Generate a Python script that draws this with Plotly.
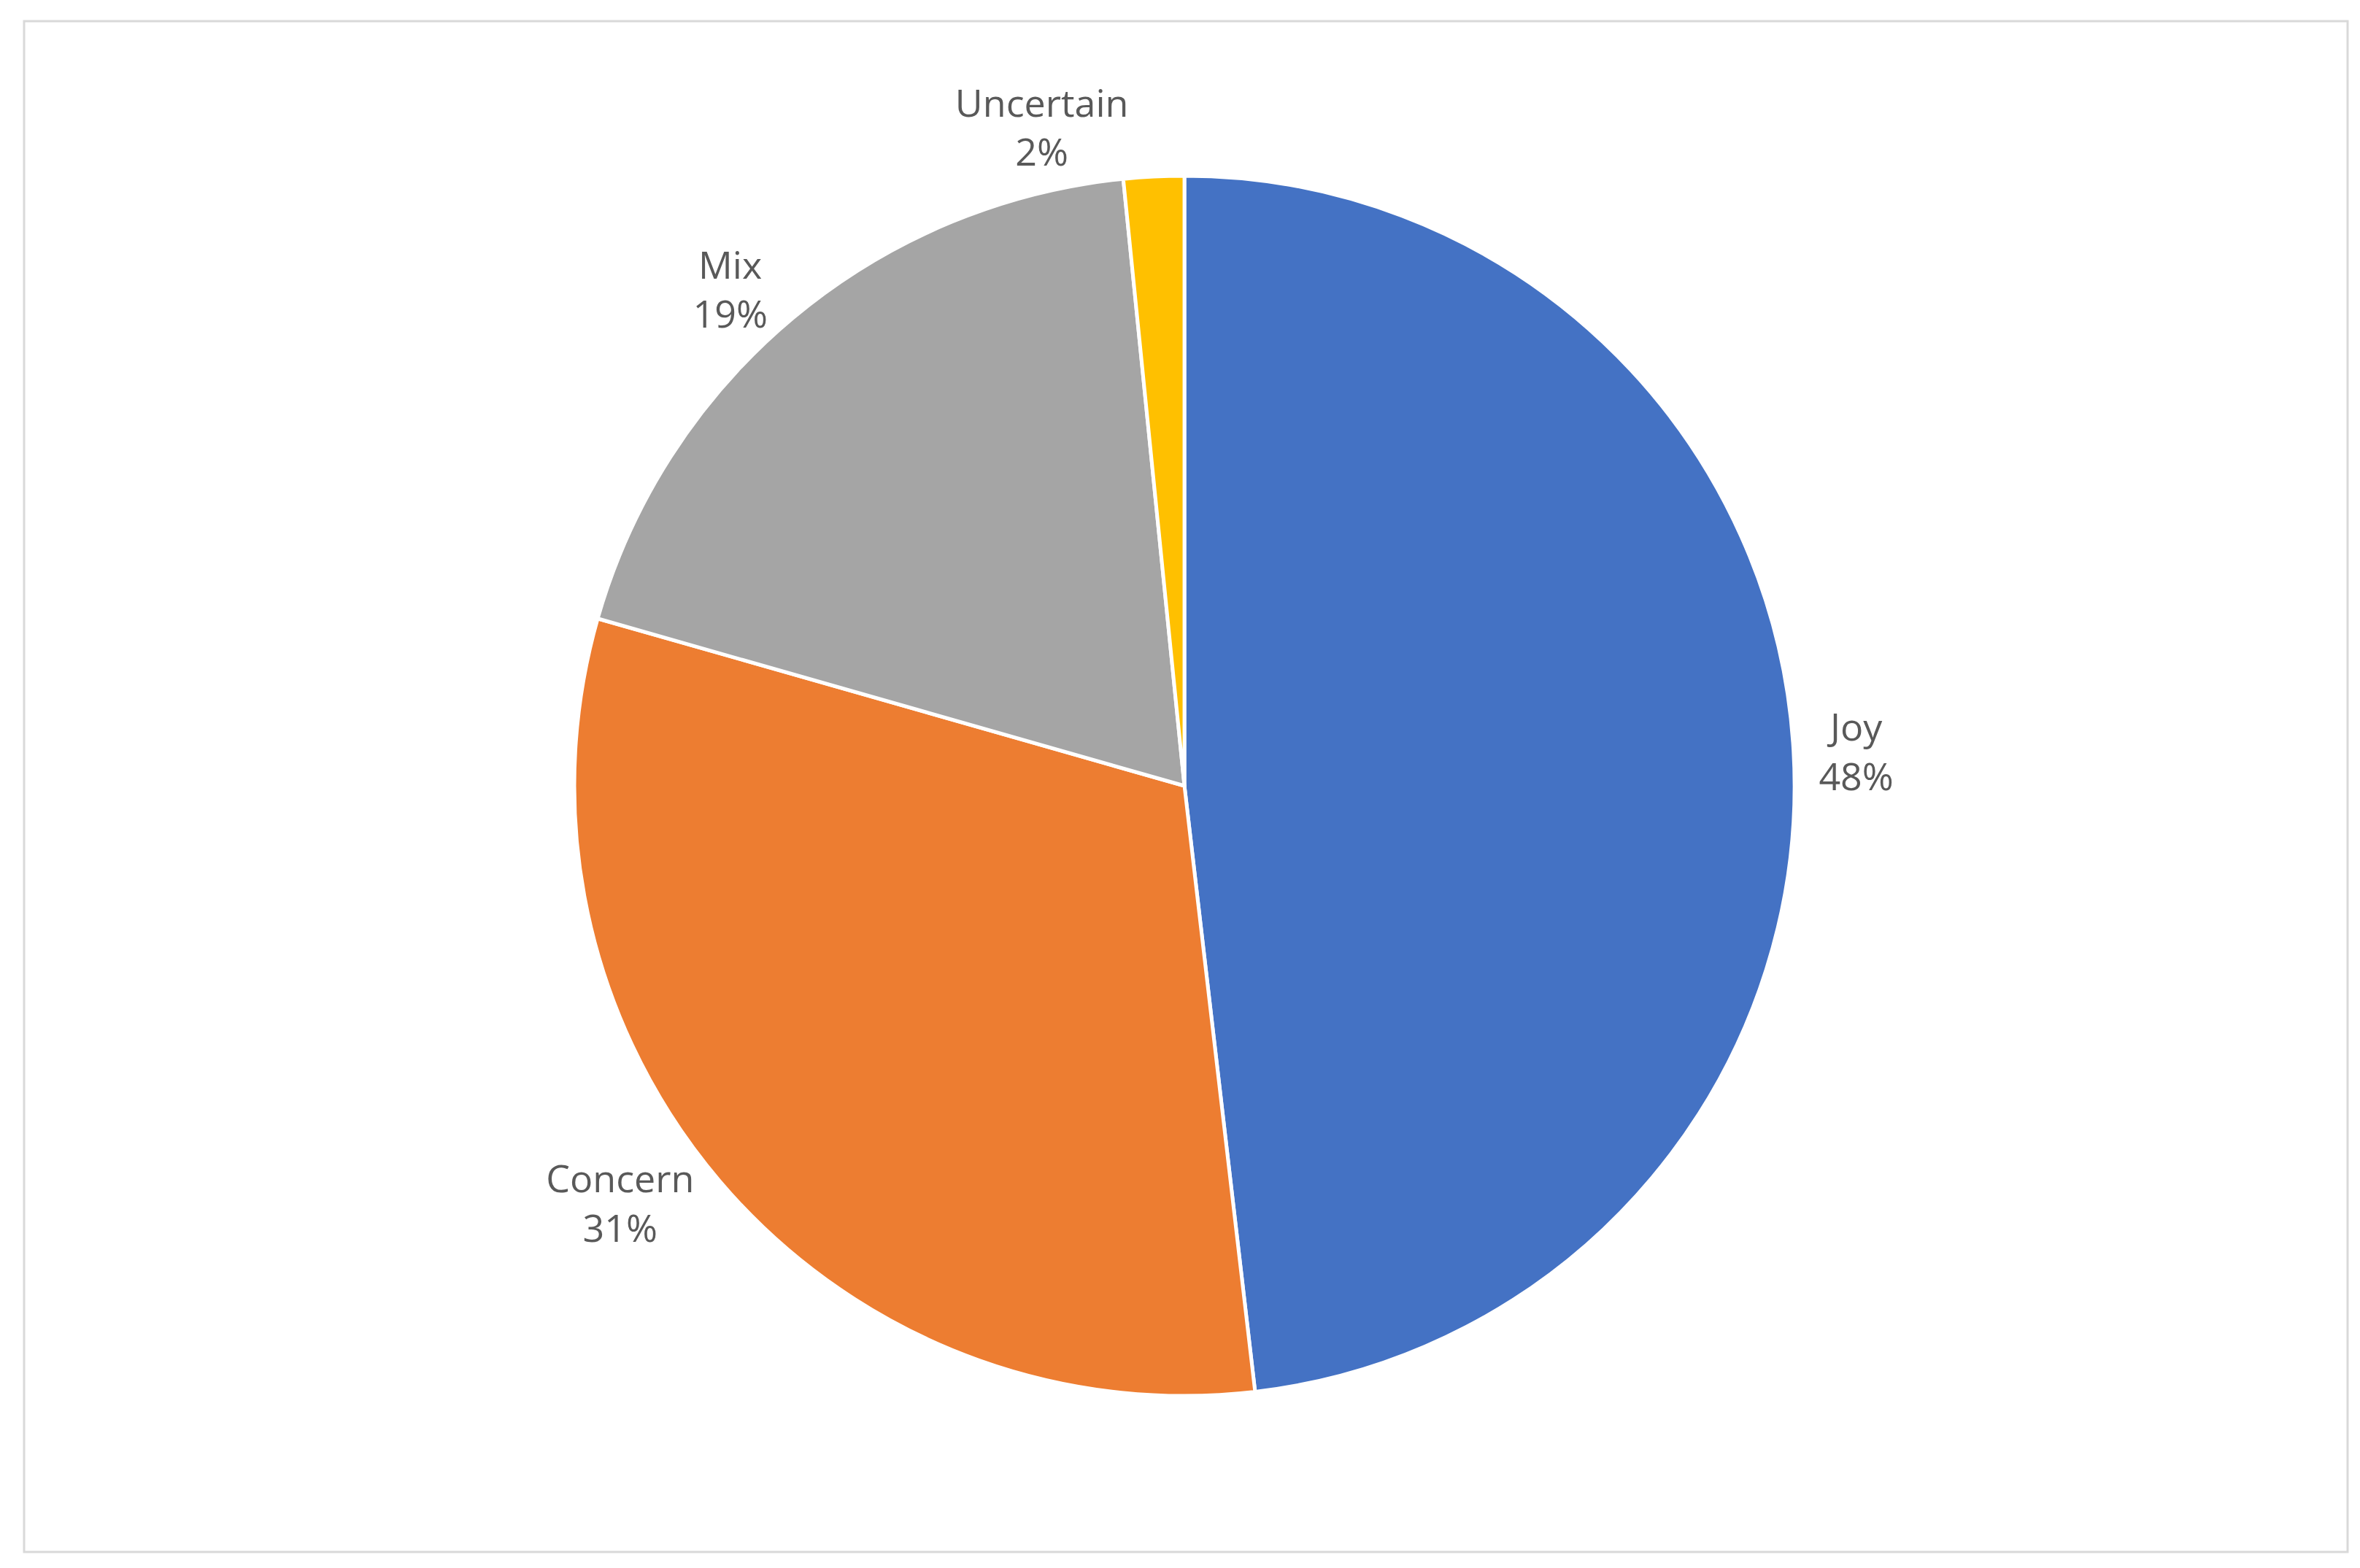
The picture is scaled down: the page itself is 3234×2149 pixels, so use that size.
import plotly.graph_objects as go

labels = ["Joy", "Concern", "Mix", "Uncertain"]
values = [48.2, 31.3, 19.0, 1.6]
colors = ["#4472C4", "#ED7D31", "#A5A5A5", "#FFC000"]

W, H = 3234, 2149
fig = go.Figure(go.Pie(
    labels=labels, values=values, sort=False, direction="clockwise", rotation=0,
    marker=dict(colors=colors, line=dict(color="white", width=5)),
    texttemplate="%{label}<br>%{percent:.0%}", textposition="outside",
    textfont=dict(family="Open Sans", size=52, color="#595959"),
    domain=dict(x=[0.0, 0.9988], y=[0.1135, 0.8916]),
    showlegend=False, automargin=False,
))
fig.update_layout(
    width=W, height=H, margin=dict(l=0, r=0, t=0, b=0),
    paper_bgcolor="white", plot_bgcolor="white",
    shapes=[dict(type="rect", xref="paper", yref="paper",
                 x0=25/W, x1=3209/W, y0=1-2119/H, y1=1-21/H,
                 line=dict(color="#D9D9D9", width=3))],
)
fig.write_html("out.html")
